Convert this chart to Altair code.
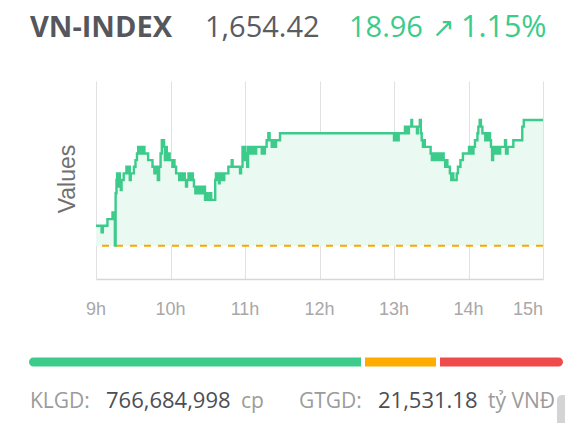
import altair as alt
import pandas as pd

# ---------------- data (minutes after 9:00, index value) ----------------
am_points = [
    (0, 1638.46), (4.5, 1637.46), (5.5, 1638.46), (9.2, 1639.46), (13.3, 1640.46),
    (15.2, 1635.46), (15.8, 1643.36), (16.5, 1645.36), (17.0, 1646.36), (17.8, 1644.36),
    (18.5, 1646.36), (19.2, 1645.36), (20.0, 1643.86), (20.6, 1645.36), (22.3, 1646.36),
    (24.5, 1647.36), (25.8, 1646.36), (26.5, 1647.36), (27.2, 1645.36), (28.0, 1646.36),
    (30.5, 1647.36), (31.8, 1648.36), (33.0, 1649.36), (34.0, 1650.36), (35.0, 1649.36),
    (36.0, 1650.36), (37.2, 1649.36), (38.2, 1650.36), (39.0, 1649.36), (42.0, 1648.36),
    (45.5, 1647.36), (47.0, 1646.36), (48.5, 1647.36), (49.8, 1645.36), (50.8, 1647.36),
    (52.0, 1649.36), (53.0, 1651.36), (54.8, 1650.36), (55.5, 1648.36), (56.3, 1650.36),
    (57.0, 1649.36), (57.8, 1648.36), (58.5, 1649.36), (59.3, 1648.36), (61.5, 1647.36),
    (62.2, 1648.36), (63.2, 1647.36), (64.5, 1646.36), (67.0, 1645.36), (68.2, 1646.36),
    (69.0, 1645.36), (70.5, 1646.36), (71.5, 1645.36), (72.5, 1644.36), (73.3, 1645.36),
    (74.5, 1646.36), (76.0, 1645.36), (77.0, 1646.36), (78.0, 1645.36), (78.9, 1644.36),
    (80.0, 1643.36), (81.0, 1644.36), (82.5, 1643.36), (83.5, 1644.36), (84.8, 1643.36),
    (86.0, 1644.36), (87.8, 1642.36), (89.0, 1643.36), (90.0, 1642.36), (92.0, 1643.36),
    (92.8, 1642.36), (96.0, 1645.36), (96.6, 1646.36), (97.4, 1645.36), (98.2, 1646.36),
    (99.0, 1644.86), (99.6, 1646.36), (100.4, 1645.36), (101.2, 1646.36), (102.5, 1645.36),
    (103.3, 1646.36), (106.6, 1647.36), (109.3, 1648.36), (110.0, 1647.36), (116.0, 1646.36),
    (116.8, 1647.36), (118.0, 1650.36), (118.7, 1648.36), (119.5, 1650.36), (120.3, 1648.36),
    (121.0, 1649.36), (121.8, 1647.36), (122.5, 1650.36), (123.5, 1649.36), (124.5, 1650.36),
    (125.5, 1649.36), (126.5, 1650.36), (128.0, 1649.36), (129.0, 1650.36), (133.5, 1649.36),
    (134.2, 1650.36), (134.8, 1649.36), (136.0, 1650.36), (137.4, 1651.36), (138.8, 1652.41),
    (139.8, 1651.36), (141.5, 1650.36), (142.5, 1651.36), (143.5, 1650.36), (145.0, 1651.36),
    (148.2, 1652.41),
]
pm_points = [
    (240.0, 1651.36), (240.6, 1652.41), (241.3, 1651.36), (242.1, 1652.41), (242.9, 1651.36),
    (243.8, 1652.41), (248.8, 1653.41), (249.5, 1652.41), (250.3, 1653.41), (251.2, 1652.41),
    (252.0, 1653.41), (254.0, 1654.42), (254.6, 1653.41), (258.5, 1652.41), (259.2, 1653.41),
    (260.8, 1654.42), (261.6, 1652.41), (262.3, 1651.36), (263.3, 1650.36), (264.0, 1651.36),
    (264.8, 1650.36), (269.5, 1649.36), (270.5, 1648.36), (271.4, 1649.36), (272.5, 1648.36),
    (273.5, 1649.36), (274.3, 1648.36), (275.2, 1649.36), (276.0, 1648.36), (277.0, 1649.36),
    (278.0, 1648.36), (279.0, 1649.36), (280.0, 1648.36), (281.2, 1647.36), (282.1, 1648.36),
    (283.0, 1647.36), (285.0, 1646.36), (286.1, 1645.36), (287.0, 1646.36), (287.8, 1645.36),
    (290.5, 1646.36), (291.5, 1647.36), (293.5, 1648.36), (295.5, 1649.36), (300.4, 1650.36),
    (301.0, 1649.36), (302.0, 1650.36), (303.0, 1649.36), (304.0, 1650.36), (305.2, 1651.36),
    (307.2, 1652.41), (307.9, 1653.41), (309.0, 1654.42), (310.0, 1653.41), (311.2, 1652.41),
    (313.5, 1651.36), (314.6, 1652.41), (315.4, 1651.36), (316.2, 1652.41), (317.3, 1651.36),
    (318.1, 1650.36), (319.0, 1648.36), (319.8, 1650.36), (320.5, 1649.36), (321.5, 1650.36),
    (322.5, 1649.36), (323.5, 1650.36), (324.5, 1649.36), (325.5, 1650.36), (329.4, 1651.36),
    (330.2, 1649.36), (331.5, 1650.36), (336.1, 1651.36), (343.3, 1653.41), (344.5, 1654.42),
    (360.0, 1654.42),
]
prev_close = 1635.46
hour_ticks = [0, 60, 120, 180, 240, 300, 360]
hour_labels = ["9h", "10h", "11h", "12h", "13h", "14h", "15h"]

index_name = "VN-INDEX"
index_value = "1,654.42"
change_pts = "18.96"
change_arrow = "↗"
change_pct = "1.15%"

bar_colors = ["#3ccb8b", "#ffab00", "#ef4b4d"]

klgd_label, klgd_value, klgd_unit = "KLGD:", "766,684,998", "cp"
gtgd_label, gtgd_value, gtgd_unit = "GTGD:", "21,531.18", "tỷ VNĐ"
y_title = "Values"

pts = am_points + pm_points
df = pd.DataFrame({
    "minute": [p[0] for p in pts],
    "value": [p[1] for p in pts],
    "base": [prev_close] * len(pts),
})
ticks_df = pd.DataFrame({"minute": hour_ticks, "label": hour_labels})
ref_df = pd.DataFrame({"ref": [prev_close]})

W, H = 447, 198
GREEN = "#3ccb8b"
one = pd.DataFrame({"a": [0]})

x_scale = alt.Scale(domain=[0, 360], nice=False, zero=False)
y_scale = alt.Scale(domain=[1630.43, 1660.30], nice=False, zero=False)
x_axis = alt.Axis(
    values=hour_ticks,
    labels=False,
    grid=True,
    gridColor="#e1e1e1",
    gridWidth=1,
    domainColor="#d6d6d6",
    domainWidth=1.5,
    ticks=False,
    title=None,
)

x_enc = alt.X("minute:Q", scale=x_scale, axis=x_axis)
y_enc = alt.Y("value:Q", scale=y_scale, axis=None)

area = alt.Chart(df).mark_area(interpolate="step-after", color="#eaf9f2").encode(
    x=x_enc, y=y_enc, y2="base:Q"
)
line = alt.Chart(df).mark_line(interpolate="step-after", color=GREEN, strokeWidth=2.4).encode(
    x=x_enc, y=y_enc
)
rule = alt.Chart(ref_df).mark_rule(color="#f7a900", strokeDash=[7, 7], strokeWidth=2).encode(
    y=alt.Y("ref:Q", scale=y_scale, axis=None)
)

lab_style = dict(font="Liberation Sans", fontSize=18, color="#a8a8a8", baseline="alphabetic")
tick_labels_mid = alt.Chart(ticks_df).transform_filter("datum.minute < 360").mark_text(
    align="center", **lab_style
).encode(x=alt.X("minute:Q", scale=x_scale, axis=x_axis), y=alt.value(234), text="label:N")
tick_labels_end = alt.Chart(ticks_df).transform_filter("datum.minute == 360").mark_text(
    align="right", **lab_style
).encode(x=alt.X("minute:Q", scale=x_scale, axis=x_axis), y=alt.value(234), text="label:N")


def txt(text, x, y, size, color, font="Open Sans", weight="normal", angle=0, align="left"):
    return alt.Chart(one).mark_text(
        text=text, font=font, fontSize=size, color=color, fontWeight=weight,
        align=align, baseline="alphabetic", angle=angle,
    ).encode(x=alt.value(x), y=alt.value(y))


def rect(x1, x2, y1, y2, color, **kw):
    return alt.Chart(one).mark_rect(color=color, **kw).encode(
        x=alt.value(x1), x2=alt.value(x2), y=alt.value(y1), y2=alt.value(y2)
    )


layers = [
    area, rule, line, tick_labels_mid, tick_labels_end,
    txt(y_title, -21, 98, 23, "#707070", font="Liberation Sans", angle=270, align="center"),
    txt(index_name, -66, -44, 29, "#55575d", weight="bold"),
    txt(index_value, 109, -44, 29, "#5a5c62"),
    txt(change_pts, 253, -44, 29, GREEN),
    txt(change_arrow, 336, -44, 27, GREEN, font="DejaVu Sans"),
    txt(change_pct, 365, -44, 30.5, GREEN),
    rect(-67, 265, 276.5, 285.5, bar_colors[0], cornerRadiusTopLeft=4.5, cornerRadiusBottomLeft=4.5),
    rect(269, 340, 276.5, 285.5, bar_colors[1]),
    rect(344, 467, 276.5, 285.5, bar_colors[2], cornerRadiusTopRight=4.5, cornerRadiusBottomRight=4.5),
    txt(klgd_label, -66, 327, 21, "#9b9b9b"),
    txt(klgd_value, 10, 327, 22, "#4b4e56"),
    txt(klgd_unit, 145, 327, 21, "#9b9b9b"),
    txt(gtgd_label, 203, 327, 21, "#9b9b9b"),
    txt(gtgd_value, 282, 327, 22, "#4b4e56"),
    txt(gtgd_unit, 392, 327, 21, "#9b9b9b"),
    rect(461, 475, 314, 345, "#d4d4d4", cornerRadiusTopLeft=5),
]

chart = alt.layer(*layers).properties(
    width=W,
    height=H,
    autosize=alt.AutoSizeParams(type="none"),
    padding={"left": 88, "top": 73, "right": 22, "bottom": 144},
).configure_view(strokeWidth=0)

chart.save("out.html", embed_options={"renderer": "svg", "actions": False})
